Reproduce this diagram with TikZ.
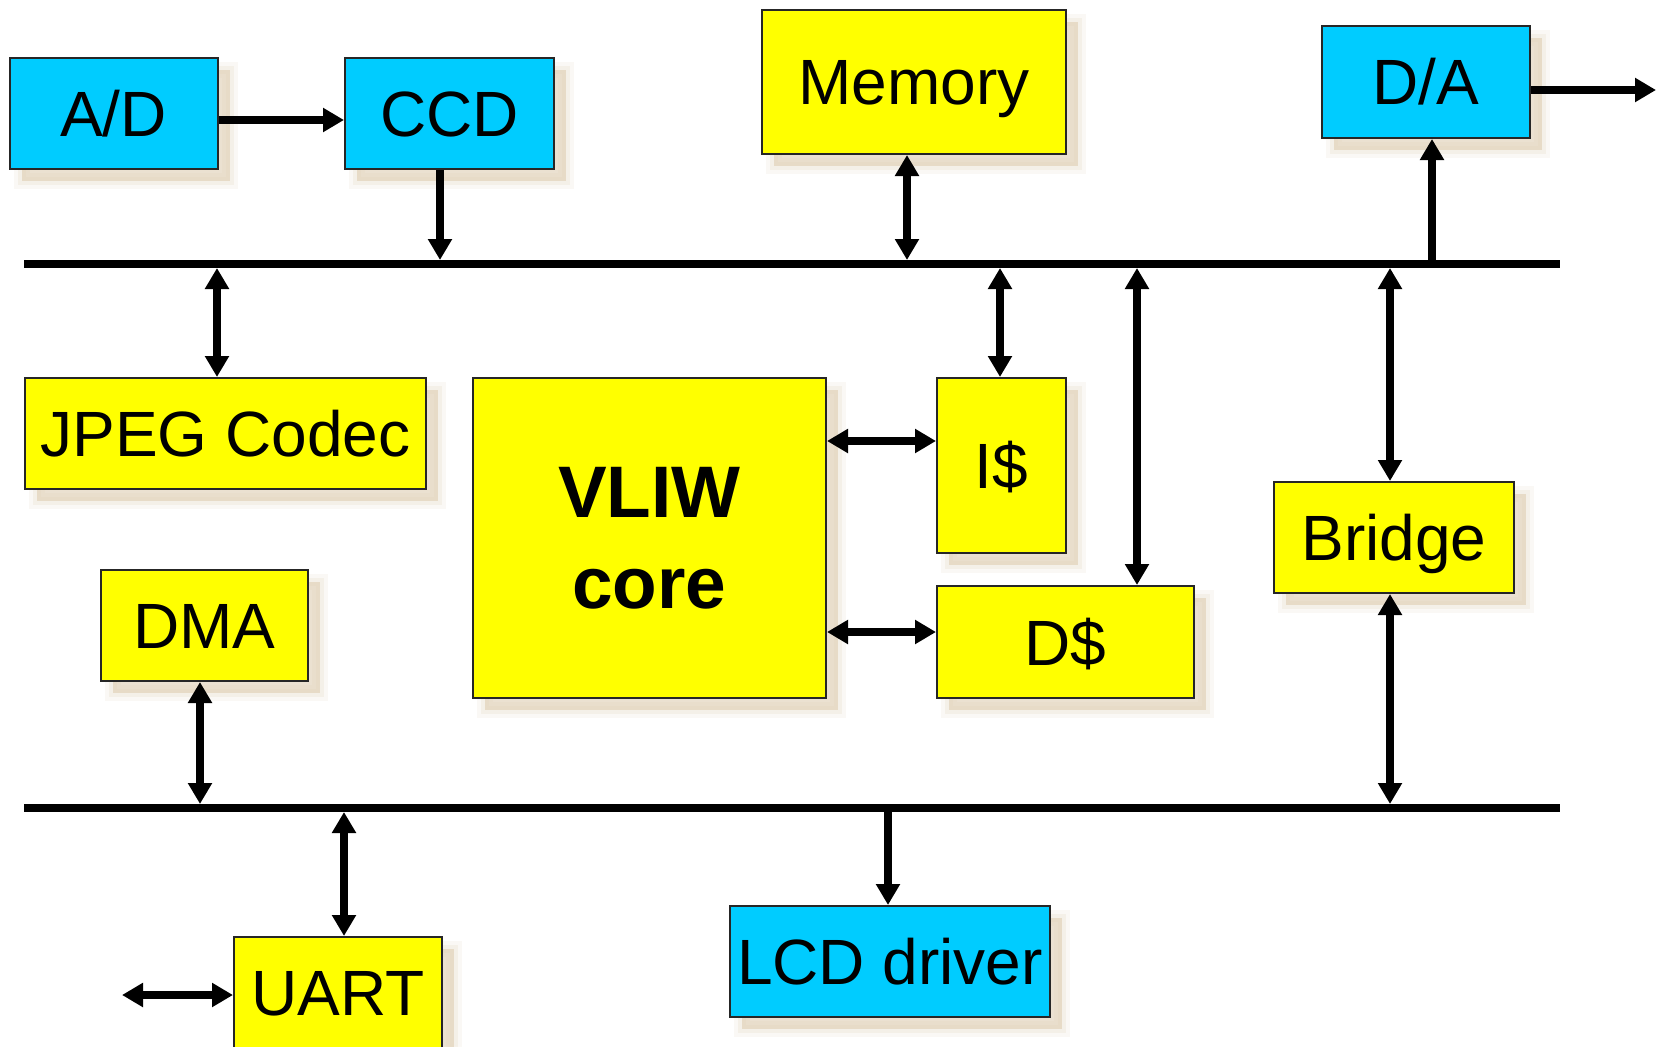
\documentclass[tikz,border=0pt]{standalone}
\usepackage{fontspec}
\setmainfont{Liberation Sans}
\usetikzlibrary{arrows.meta,shadows}
\definecolor{cyanc}{RGB}{0,204,255}
\definecolor{yellc}{RGB}{255,255,0}
\definecolor{shadowc}{RGB}{222,204,175}
\tikzset{
  softshadow/.style={
    general shadow={shadow xshift=12pt, shadow yshift=-12pt, fill=shadowc, draw=shadowc, line width=16pt, opacity=0.12},
    general shadow={shadow xshift=12pt, shadow yshift=-12pt, fill=shadowc, draw=shadowc, line width=8pt, opacity=0.18},
    general shadow={shadow xshift=12pt, shadow yshift=-12pt, fill=shadowc, draw=none, opacity=0.4}
  },
  box/.style={rectangle, draw=black!85, line width=2pt, anchor=north west, inner sep=0pt,
    font=\fontsize{64}{70}\selectfont, text height=46pt, text depth=0pt, softshadow},
  cbox/.style={box, fill=cyanc},
  ybox/.style={box, fill=yellc},
  arr/.style={line width=7.5pt, -{Triangle[length=21pt,width=23pt]}},
  darr/.style={line width=7.5pt, {Triangle[length=21pt,width=23pt]}-{Triangle[length=21pt,width=23pt]}},
  bus/.style={line width=8pt},
}
\begin{document}
\begin{tikzpicture}[x=1pt,y=-1pt]
\useasboundingbox[fill=white] (0,0) rectangle (1661,1046);
% boxes
\node[cbox, minimum width=208pt, minimum height=111pt] (ad) at (8.5,57) {A/D};
\node[cbox, minimum width=209pt, minimum height=111pt] (ccd) at (344,57) {CCD};
\node[ybox, minimum width=304pt, minimum height=144pt] (mem) at (761,9) {Memory};
\node[cbox, minimum width=208pt, minimum height=112pt] (da) at (1321,25) {D/A};
\node[ybox, minimum width=401pt, minimum height=111pt] (jpeg) at (24,377) {JPEG Codec};
\node[ybox, minimum width=353pt, minimum height=320pt, align=center, text height=, text depth=,
      font=\fontsize{73}{91}\selectfont\bfseries] (vliw) at (472,377) {VLIW\\core};
\node[ybox, minimum width=129pt, minimum height=175pt] (ic) at (936,377) {I\$};
\node[ybox, minimum width=257pt, minimum height=112pt] (dc) at (936,585) {D\$};
\node[ybox, minimum width=240pt, minimum height=111pt] (br) at (1273,481) {Bridge};
\node[ybox, minimum width=207pt, minimum height=111pt] (dma) at (100,569) {DMA};
\node[ybox, minimum width=208pt, minimum height=111pt] (uart) at (233,936) {UART};
\node[cbox, minimum width=320pt, minimum height=111pt] (lcd) at (729,905) {LCD driver};
% buses
\coordinate (tbL) at (24,264);
\coordinate (tbR) at (1560,264);
\coordinate (bbL) at (24,808);
\coordinate (bbR) at (1560,808);
\draw[bus] (tbL) -- (tbR);
\draw[bus] (bbL) -- (bbR);
% bus taps
\coordinate (tccd) at (440,260);
\coordinate (tmem) at (907,260);
\coordinate (tda) at (1432,264);
\coordinate (tjpeg) at (217,268);
\coordinate (tic) at (1000,268);
\coordinate (tdc) at (1137,268);
\coordinate (tbrt) at (1390,268);
\coordinate (tbrb) at (1390,804);
\coordinate (tdma) at (200,804);
\coordinate (tuart) at (344,812);
\coordinate (tlcd) at (888,808);
\coordinate (daout) at (1656,90);
\coordinate (uartin) at (122,995);
% connectors
\draw[arr] (ad.east |- 0,120) -- (ccd.west |- 0,120);
\draw[arr] (tccd |- ccd.south) -- (tccd);
\draw[darr] (tmem |- mem.south) -- (tmem);
\draw[arr] (tda) -- (tda |- da.south);
\draw[arr] (da.east |- daout) -- (daout);
\draw[darr] (tjpeg) -- (tjpeg |- jpeg.north);
\draw[darr] (tic) -- (tic |- ic.north);
\draw[darr] (tdc) -- (tdc |- dc.north);
\draw[darr] (tbrt) -- (tbrt |- br.north);
\draw[darr] (tbrb |- br.south) -- (tbrb);
\draw[darr] (vliw.east |- 0,441) -- (ic.west |- 0,441);
\draw[darr] (vliw.east |- 0,632) -- (dc.west |- 0,632);
\draw[darr] (tdma |- dma.south) -- (tdma);
\draw[darr] (tuart) -- (tuart |- uart.north);
\draw[darr] (uartin) -- (uart.west |- uartin);
\draw[arr] (tlcd) -- (tlcd |- lcd.north);
\end{tikzpicture}
\end{document}
